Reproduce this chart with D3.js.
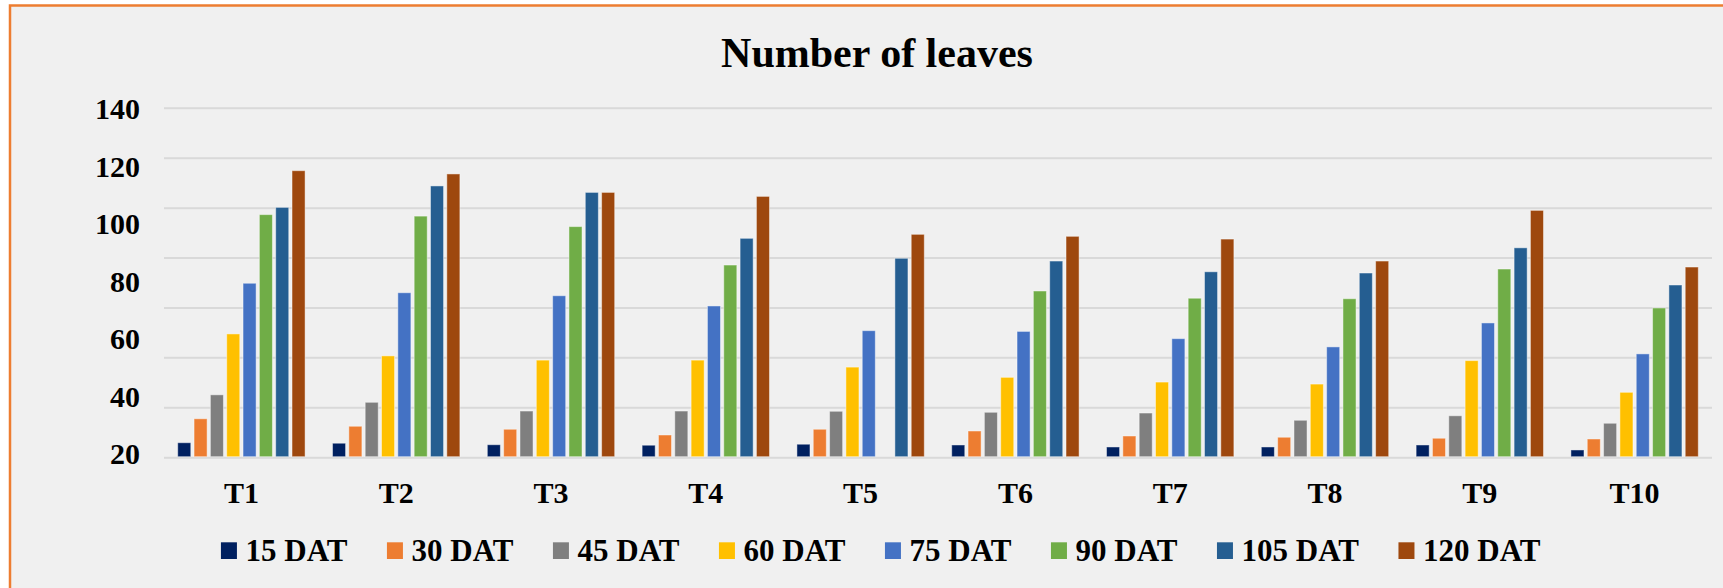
<script src="https://cdnjs.cloudflare.com/ajax/libs/d3/7.8.5/d3.min.js"></script>
<style>
body { margin: 0; background: #fff; }
svg { display: block; }
text { font-family: "Liberation Serif", "Times New Roman", serif; font-weight: bold; fill: #000; }
</style>
<svg id="chart" width="1723" height="588"></svg>
<script>

// data
var categories = ["T1", "T2", "T3", "T4", "T5", "T6", "T7", "T8", "T9", "T10"]
var seriesNames = ["15 DAT", "30 DAT", "45 DAT", "60 DAT", "75 DAT", "90 DAT", "105 DAT", "120 DAT"]
var seriesColors = ["#002060", "#ED7D31", "#7F7F7F", "#FFC000", "#4472C4", "#70AD47", "#255E91", "#9E480E"]

var dat15  = [6.0, 5.8, 5.2, 5.0, 5.4, 5.1, 4.3, 4.3, 5.1, 3.1]
var dat30  = [15.6, 12.6, 11.4, 9.1, 11.4, 10.7, 8.7, 8.2, 7.8, 7.5]
var dat45  = [25.2, 22.2, 18.7, 18.7, 18.6, 18.2, 17.9, 15.0, 16.8, 13.8]
var dat60  = [49.6, 40.8, 39.1, 39.1, 36.3, 32.2, 30.3, 29.5, 38.9, 26.2]
var dat75  = [69.9, 66.1, 64.9, 60.8, 50.9, 50.6, 47.7, 44.4, 54.0, 41.6]
var dat90  = [97.4, 96.8, 92.6, 77.2, 0, 66.8, 63.9, 63.7, 75.6, 60.0]
var dat105 = [100.3, 108.9, 106.3, 87.9, 79.9, 78.8, 74.5, 74.0, 84.1, 69.2]
var dat120 = [115.0, 113.7, 106.3, 104.7, 89.5, 88.7, 87.6, 78.8, 99.1, 76.4]

var seriesValues = [dat15, dat30, dat45, dat60, dat75, dat90, dat105, dat120]

// printed tick labels (they sit a little off the gridlines in the original)
var yTickLabels = [20, 40, 60, 80, 100, 120, 140]

var svg = d3.select('#chart')

// frame
svg.append('rect')
    .attr('x', 10).attr('y', 5.5)
    .attr('width', 1740).attr('height', 600)
    .attr('fill', '#F0F0F0')
    .attr('stroke', '#ED7D31')
    .attr('stroke-width', 2.5)

var plotLeft = 164, plotRight = 1712, plotTop = 108.3, plotBottom = 457.7

var x0 = d3.scaleBand()
    .domain(categories)
    .range([plotLeft, plotRight])
    .padding(0)

var x1 = d3.scaleBand()
    .domain(seriesNames)
    .range([0, x0.bandwidth()])
    .paddingInner(0.2)
    .paddingOuter(0.84)

var y = d3.scaleLinear()
    .domain([0, 140])
    .range([plotBottom, plotTop])

var yLabel = d3.scaleLinear()
    .domain([20, 140])
    .range([453.3, 108.3])

var color = d3.scaleOrdinal().domain(seriesNames).range(seriesColors)

// gridlines
svg.append('g')
    .selectAll('line')
    .data(y.ticks(7))
    .enter()
    .append('line')
    .attr('x1', plotLeft).attr('x2', plotRight)
    .attr('y1', function(d) { return y(d) })
    .attr('y2', function(d) { return y(d) })
    .attr('stroke', '#D9D9D9')
    .attr('stroke-width', 2)

// bars
var rows = categories.map(function(c, i) {
    return {cat: c, values: seriesNames.map(function(s, j) { return {series: s, value: seriesValues[j][i]} })}
})

svg.append('g')
    .selectAll('g')
    .data(rows)
    .enter()
    .append('g')
    .attr('transform', function(d) { return 'translate(' + x0(d.cat) + ',0)' })
    .selectAll('rect')
    .data(function(d) { return d.values.filter(function(v) { return v.value > 0 }) })
    .enter()
    .append('rect')
    .attr('x', function(d) { return x1(d.series) })
    .attr('width', x1.bandwidth())
    .attr('y', function(d) { return y(d.value) })
    .attr('height', function(d) { return y(0) - y(d.value) - 1 })
    .attr('fill', function(d) { return color(d.series) })
    .attr('stroke', 'rgba(255,255,255,0.45)')
    .attr('stroke-width', 1)

// x labels
var xAxis = svg.append('g')
    .attr('transform', 'translate(0,' + 502.7 + ')')
    .call(d3.axisBottom(x0).tickSize(0).tickPadding(0))
xAxis.select('.domain').remove()
xAxis.selectAll('text')
    .attr('dy', 0)
    .style('font-size', '30px')
    .style('font-family', '"Liberation Serif", "Times New Roman", serif')
    .style('font-weight', 'bold')
    .attr('fill', '#000')

// y labels
var yAxis = svg.append('g')
    .attr('transform', 'translate(140,0)')
    .call(d3.axisLeft(yLabel).tickValues(yTickLabels).tickSize(0).tickPadding(0))
yAxis.select('.domain').remove()
yAxis.selectAll('text')
    .attr('dy', '0.34em')
    .style('font-size', '30px')
    .style('font-family', '"Liberation Serif", "Times New Roman", serif')
    .style('font-weight', 'bold')
    .attr('fill', '#000')

// title
svg.append('text')
    .attr('x', 877).attr('y', 66.7)
    .attr('text-anchor', 'middle')
    .style('font-size', '42px')
    .text('Number of leaves')

// legend, laid out left to right and centred
var legendGap = 39.5
var legend = svg.append('g')
var item = legend.selectAll('g')
    .data(seriesNames)
    .enter()
    .append('g')

item.append('rect')
    .attr('width', 16).attr('height', 16.7)
    .attr('y', 542.3)
    .attr('fill', function(d) { return color(d) })

item.append('text')
    .attr('x', 24.6).attr('y', 560.7)
    .style('font-size', '31px')
    .text(function(d) { return d })

var cursor = 0
item.each(function() {
    var g = d3.select(this)
    g.attr('transform', 'translate(' + cursor + ',0)')
    cursor += 24.6 + g.select('text').node().getComputedTextLength() + legendGap
})
var legendWidth = cursor - legendGap
legend.attr('transform', 'translate(' + (880.7 - legendWidth / 2) + ',0)')

</script>
